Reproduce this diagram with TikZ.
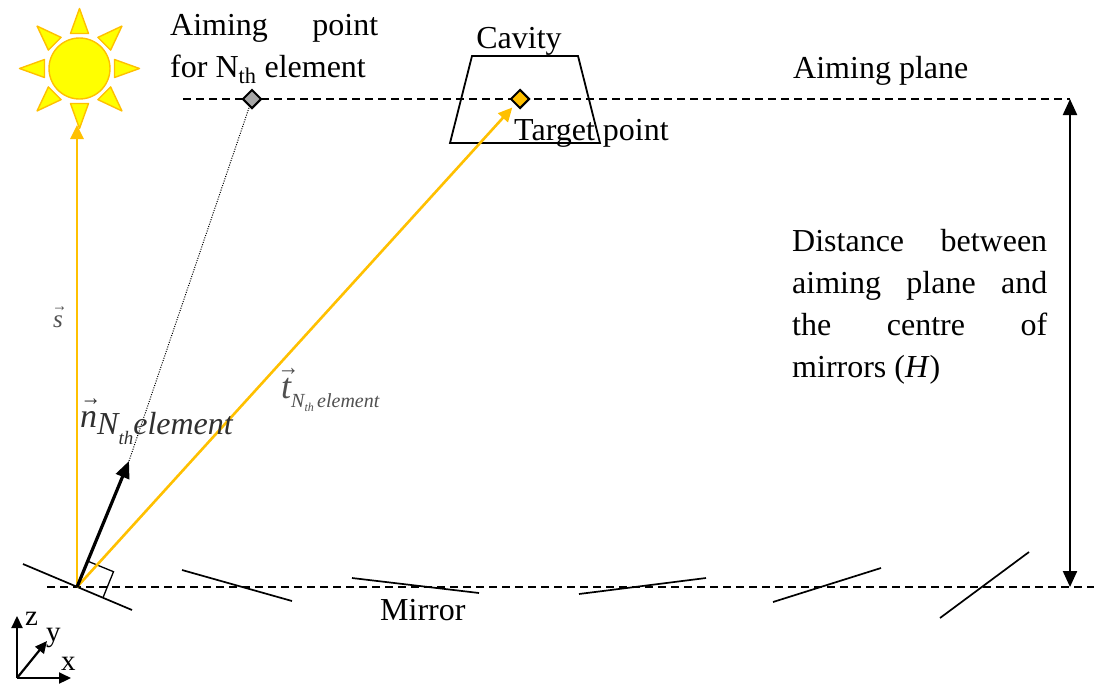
\documentclass[tikz,border=0pt]{standalone}
\usepackage{fontspec}
\setmainfont{Liberation Serif}
\usetikzlibrary{arrows.meta,shapes.geometric}
\definecolor{gold}{HTML}{FFC000}
\definecolor{sunfill}{HTML}{FFFF00}
\definecolor{aimgray}{HTML}{A6A6A6}
\definecolor{lbl}{HTML}{505050}
\definecolor{lbldark}{HTML}{303030}
% italic letter with a small vector arrow above it
\newcommand{\vecover}[1]{\ooalign{\itshape #1\cr\hidewidth\kern0.12em\raisebox{0.62em}{\scalebox{0.6}[0.7]{\upshape →}}\hidewidth\cr}}

\begin{document}
\begin{tikzpicture}[x=1pt,y=-1pt,
  txt/.style={inner sep=0pt, font=\fontsize{32}{42}\selectfont},
  plane/.style={dash pattern=on 8pt off 5pt, line width=1.4pt},
  mirror/.style={line width=1.7pt},
  ray/.style={draw=gold, line width=2.6pt, -{Triangle[length=14pt,width=13pt]}},
  marker/.style={diamond, aspect=1, minimum size=19pt, inner sep=0pt, draw=black, line width=2pt},
  sunpart/.style={fill=sunfill, draw=gold, line width=1.4pt, line join=round},
  axis/.style={line width=2.2pt, -{Triangle[length=12pt,width=11pt]}},
  dim/.style={line width=2.2pt, {Triangle[length=16pt,width=14pt]}-{Triangle[length=16pt,width=14pt]}}
]
\useasboundingbox (0,0) rectangle (1094,689);

% sun
\coordinate (sunc) at (79.5,68.5);
\foreach \a in {0,45,...,315}
  \filldraw[sunpart, shift={(sunc)}, rotate=\a] (35,-9) -- (60,0) -- (35,9) -- cycle;
\node[circle, minimum size=61pt, inner sep=0pt, sunpart] (sun) at (sunc) {};

% aiming plane and mirror level
\coordinate (Htop) at (1070,99);
\coordinate (Hbot) at (1070,587);
\coordinate (planeL) at (183,99);
\coordinate (baseL) at (47,587);
\coordinate (baseR) at (1094,587);
\draw[plane] (planeL) -- (Htop);
\draw[plane] (baseL) -- (baseR);

% cavity
\draw[line width=1.8pt, line join=miter] (472,56) -- (578,56) -- (600,143) -- (450,143) -- cycle;
\node[txt, anchor=base] (cavity) at (519,48) {Cavity};

% aiming points
\node[marker, fill=aimgray] (aimN) at (252,99) {};
\node[marker, fill=gold] (target) at (520,99) {};

% mirrors
\coordinate (O) at (77,587);
\draw[mirror] (23,564) -- (132,610);
\draw[mirror] (182,570) -- (292,601);
\draw[mirror] (352,578) -- (479,593);
\draw[mirror] (579,594) -- (706,578);
\draw[mirror] (773,602) -- (881,568);
\draw[mirror] (940,618) -- (1029,552);

% vectors from the first mirror
\coordinate (stip) at (77,125);
\coordinate (ntip) at (129,461);
\draw[line width=1.3pt] (87.6,561.1) -- (113.5,571.7) -- (103,597.6);
\draw[ray] (O) -- (stip);
\draw[ray, shorten >=4pt] (O) -- (target);
\draw[line width=1pt, dash pattern=on 1pt off 1.4pt] (ntip) -- (aimN);
\draw[line width=3.2pt, -{Triangle[length=17pt,width=14pt]}] (O) -- (ntip);

% distance H
\draw[dim] (Htop) -- (Hbot);

% labels
\node[txt, anchor=base west] (aimtxt) at (170,35)
  {\parbox[t]{208pt}{\fontsize{32}{42}\selectfont Aiming\hfill point\\for N\textsubscript{th} element}};
\node[txt, anchor=base west] (targettxt) at (514,140) {Target point};
\node[txt, anchor=base west] (planetxt) at (793,78) {Aiming plane};
\node[txt, anchor=base west] (htxt) at (792,251)
  {\parbox[t]{255pt}{\fontsize{32}{42}\selectfont Distance\hfill between\\aiming\hfill plane\hfill and\\the\hfill centre\hfill of\\mirrors (\textit{H})}};
\node[txt, anchor=base west] (mirrortxt) at (380,620) {Mirror};

\node[inner sep=0pt, anchor=base west, text=lbl, font=\fontsize{25}{25}\selectfont] (slbl) at (53,327)
  {\vecover{s}};
\node[inner sep=0pt, anchor=base west, text=lbldark] (nlbl) at (80,427)
  {{\fontsize{34}{34}\selectfont\vecover{n}}\raisebox{-7pt}{\fontsize{32}{32}\selectfont\itshape N\raisebox{-10pt}{\fontsize{19}{19}\selectfont th}element}};
\node[inner sep=0pt, anchor=base west, text=lbl] (tlbl) at (281,398)
  {{\fontsize{36}{36}\selectfont\vecover{t}}\raisebox{-9pt}{\fontsize{20}{20}\selectfont\itshape N\raisebox{-4pt}{\fontsize{12}{12}\selectfont th}\,element}};

% coordinate axes
\coordinate (A) at (17,678);
\draw[axis] (A) -- (17,616);
\draw[axis] (A) -- (71,678);
\draw[axis] (A) -- (47,641);
\node[inner sep=0pt, anchor=base west, font=\fontsize{29}{29}\selectfont] (zlbl) at (25,625) {z};
\node[inner sep=0pt, anchor=base west, font=\fontsize{29}{29}\selectfont] (ylbl) at (46,641) {y};
\node[inner sep=0pt, anchor=base west, font=\fontsize{29}{29}\selectfont] (xlbl) at (61,670) {x};
\end{tikzpicture}
\end{document}
